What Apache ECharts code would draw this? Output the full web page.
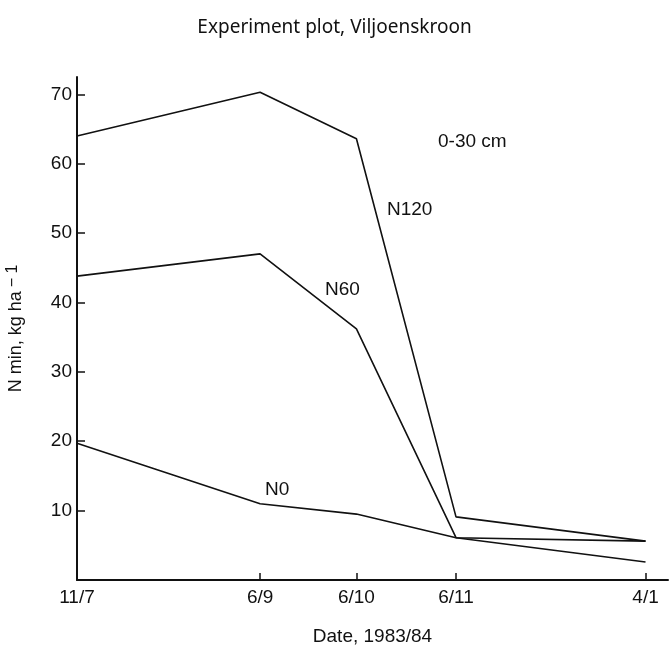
<!DOCTYPE html>
<html><head><meta charset="utf-8">
<script src="https://cdn.jsdelivr.net/npm/echarts@6/dist/echarts.min.js"></script>
<style>html,body{margin:0;padding:0;background:#fff}#c{width:669px;height:646px}</style>
</head><body><div id="c"></div>
<script>
// Sampling dates (1983/84) and days elapsed since 11 July 1983
const dateLabels = ['11/7', '6/9', '6/10', '6/11', '4/1'];
const dayOffsets = [0, 57, 87, 118, 177];
// N min (kg/ha), 0-30 cm
const n120 = [64, 70.3, 63.6, 9.1, 5.6];
const n60 = [43.8, 47, 36.2, 6.1, 5.6];
const n0 = [19.7, 11, 9.5, 6.1, 2.6];
const yTicks = [10, 20, 30, 40, 50, 60, 70];
const seriesNames = ['N120', 'N60', 'N0'];

const FONT = 'Liberation Sans';
const pair = (vals) => dayOffsets.map((d, i) => [d, vals[i]]);
const labelOf = (v) => { const i = dayOffsets.indexOf(v); return i >= 0 ? dateLabels[i] : ''; };

const chart = echarts.init(document.getElementById('c'), null, {renderer: 'canvas'});
const lineStyle = {color: '#111', width: 1.6};
chart.setOption({
  backgroundColor: '#fff',
  animation: false,
  title: {
    text: 'Experiment plot, Viljoenskroon',
    left: 'center', top: 13,
    textStyle: {fontFamily: 'Noto Sans', fontSize: 19, fontWeight: 'normal', color: '#111'}
  },
  grid: {left: 77, right: 1, top: 77, bottom: 66, containLabel: false, outerBoundsMode: 'none'},
  xAxis: {
    type: 'value', min: 0, max: 184,
    name: 'Date, 1983/84', nameLocation: 'middle', nameGap: 47,
    nameTextStyle: {fontFamily: FONT, fontSize: 19, color: '#111'},
    axisLine: {lineStyle: {color: '#111', width: 2}},
    axisTick: {inside: true, length: 7, lineStyle: {color: '#111', width: 1.5}, customValues: dayOffsets},
    axisLabel: {customValues: dayOffsets, formatter: labelOf, margin: 8,
      fontFamily: FONT, fontSize: 19, color: '#111'},
    splitLine: {show: false}
  },
  yAxis: {
    type: 'value', min: 0, max: 72.5,
    name: 'N min, kg ha{s|− 1}', nameLocation: 'middle', nameGap: 50,
    nameTextStyle: {fontFamily: FONT, fontSize: 18, color: '#111',
      rich: {s: {fontFamily: FONT, fontSize: 16, color: '#111', padding: [0, 0, 6, 4]}}},
    axisLine: {show: true, lineStyle: {color: '#111', width: 2}},
    axisTick: {show: true, inside: true, length: 8, lineStyle: {color: '#111', width: 1.5}, customValues: yTicks},
    axisLabel: {customValues: yTicks, margin: 5, fontFamily: FONT, fontSize: 19, color: '#111'},
    splitLine: {show: false}
  },
  graphic: [
    {type: 'text', left: 438, top: 132, style: {text: '0-30 cm', font: '19px "Liberation Sans"', fill: '#111'}},
    {type: 'text', left: 387, top: 200, style: {text: seriesNames[0], font: '19px "Liberation Sans"', fill: '#111'}},
    {type: 'text', left: 325, top: 280, style: {text: seriesNames[1], font: '19px "Liberation Sans"', fill: '#111'}},
    {type: 'text', left: 265, top: 480, style: {text: seriesNames[2], font: '19px "Liberation Sans"', fill: '#111'}}
  ],
  series: [
    {name: seriesNames[0], type: 'line', data: pair(n120), showSymbol: false, lineStyle},
    {name: seriesNames[1], type: 'line', data: pair(n60), showSymbol: false, lineStyle},
    {name: seriesNames[2], type: 'line', data: pair(n0), showSymbol: false, lineStyle}
  ]
});
</script>
</body></html>
